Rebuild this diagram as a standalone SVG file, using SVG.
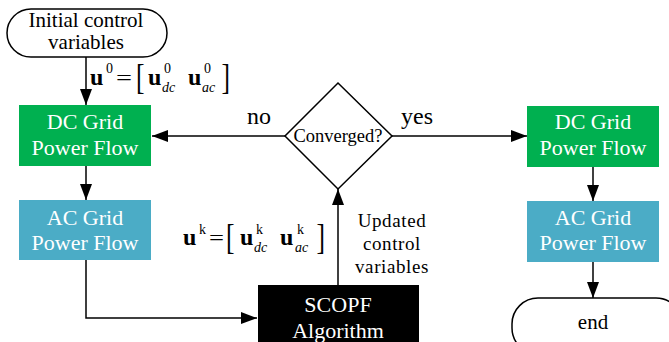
<svg xmlns="http://www.w3.org/2000/svg" width="669" height="342" viewBox="0 0 669 342">
  <style>
    .serif { font-family: "Liberation Serif", "DejaVu Serif", serif; }
    .term { fill: #ffffff; stroke: #000000; stroke-width: 1.5; }
    .dc { fill: #00b050; }
    .ac { fill: #4bacc6; }
    .algo { fill: #000000; }
    .box-label { fill: #ffffff; font-size: 22px; text-anchor: middle; }
    .label { fill: #000000; text-anchor: middle; }
    .edge { fill: none; stroke: #000000; stroke-width: 1.5; marker-end: url(#arrow); }
    .m-bold { font-weight: bold; font-size: 24px; }
    .m-sup { font-size: 14px; }
    .m-sub { font-size: 14px; font-style: italic; }
    .m-op { font-size: 22px; }
    .m-br { font-size: 30px; }
  </style>
  <defs>
    <marker id="arrow" markerUnits="userSpaceOnUse" markerWidth="16" markerHeight="12" refX="16" refY="6" orient="auto">
      <path d="M0,0 L16,6 L0,12 Z" fill="#000000"/>
    </marker>
  </defs>

  <!-- connectors -->
  <g id="connectors">
    <line class="edge" x1="86" y1="57" x2="86" y2="105"/>
    <line class="edge" x1="86" y1="166" x2="86" y2="200"/>
    <polyline class="edge" points="86,260 86,318 257,318"/>
    <line class="edge" x1="338" y1="285" x2="338" y2="189"/>
    <line class="edge" x1="285" y1="136" x2="152" y2="136"/>
    <line class="edge" x1="392" y1="136" x2="527" y2="136"/>
    <line class="edge" x1="593" y1="167" x2="593" y2="201"/>
    <line class="edge" x1="593" y1="262" x2="593" y2="298"/>
  </g>

  <!-- edge labels -->
  <g id="edge-labels">
    <text class="label serif" x="259" y="124" font-size="24">no</text>
    <text class="label serif" x="417" y="124" font-size="24">yes</text>
    <text class="label serif" x="392" y="227" font-size="19" letter-spacing="0.6">Updated</text>
    <text class="label serif" x="392" y="250" font-size="19" letter-spacing="0.6">control</text>
    <text class="label serif" x="392" y="273" font-size="19" letter-spacing="0.6">variables</text>
  </g>

  <!-- u^0 = [u^0_dc  u^0_ac] -->
  <g id="eq-u0">
    <text class="serif m-bold" x="90" y="85">u</text>
    <text class="serif m-sup" x="106" y="73">0</text>
    <text class="serif m-op" x="116" y="85" textLength="16" lengthAdjust="spacingAndGlyphs">=</text>
    <text class="serif m-br" transform="translate(136,89) scale(0.85,1.2)">[</text>
    <text class="serif m-bold" x="148" y="85">u</text>
    <text class="serif m-sup" x="164" y="73">0</text>
    <text class="serif m-sub" x="162" y="92">dc</text>
    <text class="serif m-bold" x="188" y="85">u</text>
    <text class="serif m-sup" x="204" y="73">0</text>
    <text class="serif m-sub" x="202" y="92">ac</text>
    <text class="serif m-br" transform="translate(221.5,89) scale(0.85,1.2)">]</text>
  </g>

  <!-- u^k = [u^k_dc  u^k_ac] -->
  <g id="eq-uk">
    <text class="serif m-bold" x="183" y="245">u</text>
    <text class="serif m-sup" x="199" y="234">k</text>
    <text class="serif m-op" x="209" y="245" textLength="15" lengthAdjust="spacingAndGlyphs">=</text>
    <text class="serif m-br" transform="translate(226,249) scale(0.85,1.2)">[</text>
    <text class="serif m-bold" x="240" y="245">u</text>
    <text class="serif m-sup" x="256" y="234">k</text>
    <text class="serif m-sub" x="254" y="252">dc</text>
    <text class="serif m-bold" x="280" y="245">u</text>
    <text class="serif m-sup" x="297" y="234">k</text>
    <text class="serif m-sub" x="295" y="252">ac</text>
    <text class="serif m-br" transform="translate(316.5,249) scale(0.85,1.2)">]</text>
  </g>

  <g id="start">
    <rect class="term" x="7" y="9" width="160" height="48" rx="24" ry="24"/>
    <text class="label serif" x="86" y="27" font-size="21">Initial control</text>
    <text class="label serif" x="86" y="49" font-size="21">variables</text>
  </g>

  <g id="dc-left">
    <rect class="dc" x="19" y="105" width="132" height="61"/>
    <text class="box-label serif" x="85" y="129">DC Grid</text>
    <text class="box-label serif" x="85" y="155">Power Flow</text>
  </g>

  <g id="ac-left">
    <rect class="ac" x="19" y="200" width="132" height="60"/>
    <text class="box-label serif" x="85" y="225">AC Grid</text>
    <text class="box-label serif" x="85" y="250">Power Flow</text>
  </g>

  <g id="converged">
    <polygon points="338,83 392,136 338,189 285,136" fill="#ffffff" stroke="#000000" stroke-width="1.5"/>
    <text class="label serif" x="338" y="142" font-size="18.5">Converged?</text>
  </g>

  <g id="scopf">
    <rect class="algo" x="258" y="285" width="161" height="60"/>
    <text class="box-label serif" x="338" y="312" font-size="24">SCOPF</text>
    <text class="box-label serif" x="338" y="338" font-size="24">Algorithm</text>
  </g>

  <g id="dc-right">
    <rect class="dc" x="527" y="106" width="132" height="61"/>
    <text class="box-label serif" x="593" y="129">DC Grid</text>
    <text class="box-label serif" x="593" y="155">Power Flow</text>
  </g>

  <g id="ac-right">
    <rect class="ac" x="527" y="201" width="132" height="61"/>
    <text class="box-label serif" x="593" y="225">AC Grid</text>
    <text class="box-label serif" x="593" y="250">Power Flow</text>
  </g>

  <g id="end">
    <rect class="term" x="512" y="298" width="170" height="56" rx="26" ry="26"/>
    <text class="label serif" x="593" y="329" font-size="21">end</text>
  </g>
</svg>
